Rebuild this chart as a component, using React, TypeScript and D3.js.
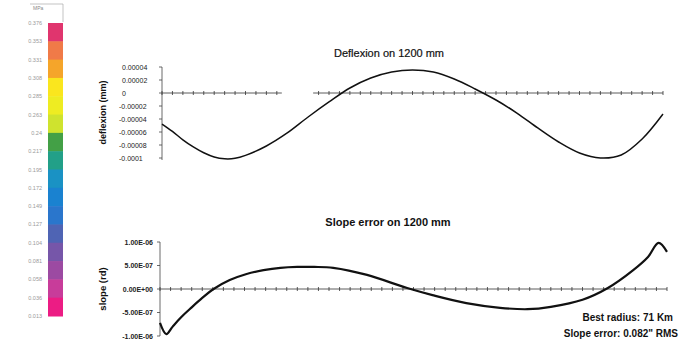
import React from "react";
import * as d3 from "d3";

// colour scale (MPa)
const scaleLabels = ["0.376", "0.353", "0.331", "0.308", "0.285", "0.263", "0.24", "0.217", "0.195", "0.172", "0.149", "0.127", "0.104", "0.081", "0.058", "0.036", "0.013"];
const scaleColors = ["#e0356e", "#f07a48", "#f5a52a", "#fae61e", "#eeec22", "#cfe32e", "#43a046", "#22a088", "#1a92c4", "#1a82d0", "#2a76cc", "#4f64b4", "#7656a9", "#9c4aa2", "#c83c9a", "#ec1c84"];

// deflexion (mm) along 1200 mm
const defX = [0, 25, 50, 75, 100, 125, 150, 175, 200, 250, 300, 350, 400, 450, 500, 550, 600, 650, 700, 750, 800, 850, 900, 950, 1000, 1050, 1100, 1150, 1200];
const defY = [-4.77e-5, -5.9e-5, -7.2e-5, -8.3e-5, -9.2e-5, -9.85e-5, -1.012e-4, -1.005e-4, -9.6e-5, -8.15e-5, -6.15e-5, -3.69e-5, -1.38e-5, 7.7e-6, 2.31e-5, 3.23e-5, 3.54e-5, 3.23e-5, 2.15e-5, 6.2e-6, -1.08e-5, -3.08e-5, -5.38e-5, -7.54e-5, -9.23e-5, -1.0e-4, -9.54e-5, -7.08e-5, -3.23e-5];
const defTicks = [0.00004, 0.00002, 0, -0.00002, -0.00004, -0.00006, -0.00008, -0.0001];
const defTickLabels = ["0.00004", "0.00002", "0", "-0.00002", "-0.00004", "-0.00006", "-0.00008", "-0.0001"];

// slope error (rd) along 1200 mm
const slopeX = [0, 15, 30, 50, 75, 100, 125, 165, 205, 245, 285, 325, 365, 410, 490, 585, 645, 725, 805, 870, 925, 1000, 1060, 1120, 1155, 1180, 1200];
const slopeY = [-7.2e-7, -9.6e-7, -8.0e-7, -6.0e-7, -3.9e-7, -1.9e-7, -0.1e-7, 1.9e-7, 3.2e-7, 4.0e-7, 4.5e-7, 4.7e-7, 4.7e-7, 4.5e-7, 3.0e-7, 0.2e-7, -1.3e-7, -3.0e-7, -4.0e-7, -4.3e-7, -3.8e-7, -2.3e-7, 0.2e-7, 4.0e-7, 6.8e-7, 9.8e-7, 7.9e-7];
const slopeTicks = [1e-6, 5e-7, 0, -5e-7, -1e-6];
const slopeTickLabels = ["1.00E-06", "5.00E-07", "0.00E+00", "-5.00E-07", "-1.00E-06"];

const xTicks = d3.range(0, 1201, 25);
const zeroGap = [287, 362]; // missing piece of the top zero line (mm)

const font = "'Liberation Sans', Arial, sans-serif";

const App = () => {
  // colour bar
  const cy = d3.scaleLinear().domain([0, scaleLabels.length - 1]).range([23, 316]);

  // top chart
  const dx = d3.scaleLinear().domain([0, 1200]).range([162, 663]);
  const dy = d3.scaleLinear().domain([-0.0001, 0.00004]).range([158, 67]);
  const defLine = d3
    .line<number>()
    .x((d, i) => dx(defX[i]))
    .y((d) => dy(d))
    .curve(d3.curveCatmullRom);

  // bottom chart
  const sx = d3.scaleLinear().domain([0, 1200]).range([160, 667]);
  const sy = d3.scaleLinear().domain([-1e-6, 1e-6]).range([336, 242]);
  const slopeLine = d3
    .line<number>()
    .x((d, i) => sx(slopeX[i]))
    .y((d) => sy(d))
    .curve(d3.curveCatmullRom);

  return (
    <svg width={691} height={351} style={{ position: "absolute", left: 0, top: 0, background: "#fff" }} fontFamily={font}>
      {/* colour bar */}
      <path d={`M30,4 H63 V${cy(0) - 1}`} fill="none" stroke="#aaa" strokeWidth={0.7} />
      <text x={33} y={10} fontSize={5} fill="#888">MPa</text>
      {scaleColors.map((c, i) => (
        <rect key={i} x={48} y={cy(i)} width={15} height={cy(i + 1) - cy(i) + 0.5} fill={c} />
      ))}
      {scaleLabels.map((t, i) => (
        <text key={t} x={42} y={cy(i) + 2} fontSize={5.5} fill="#999" textAnchor="end">{t}</text>
      ))}

      {/* deflexion chart */}
      <text x={389} y={57} fontSize={11} textAnchor="middle" fill="#111" stroke="#111" strokeWidth={0.2}>Deflexion on 1200 mm</text>
      <text transform={`translate(106,${dy(-0.00003)}) rotate(-90)`} fontSize={9} fontWeight="bold" textAnchor="middle" fill="#111">deflexion (mm)</text>
      <line x1={dx(0)} x2={dx(0)} y1={dy(0.00004)} y2={dy(-0.0001) + 2} stroke="#444" strokeWidth={0.8} />
      {defTicks.map((v, i) => (
        <g key={i}>
          <line x1={dx(0) - 3} x2={dx(0)} y1={dy(v)} y2={dy(v)} stroke="#444" strokeWidth={0.8} />
          <text x={v < 0 ? 119 : 122} y={dy(v) + 2.5} fontSize={7} fill="#222">{defTickLabels[i]}</text>
        </g>
      ))}
      <line x1={dx(0)} x2={dx(zeroGap[0])} y1={dy(0)} y2={dy(0)} stroke="#333" strokeWidth={0.8} />
      <line x1={dx(zeroGap[1])} x2={dx(1200)} y1={dy(0)} y2={dy(0)} stroke="#333" strokeWidth={0.8} />
      {xTicks
        .filter((t) => t < zeroGap[0] || t > zeroGap[1])
        .map((t) => (
          <line key={t} x1={dx(t)} x2={dx(t)} y1={dy(0) - 2} y2={dy(0) + 2} stroke="#333" strokeWidth={0.8} />
        ))}
      <path d={defLine(defY) || ""} fill="none" stroke="#111" strokeWidth={1.5} />

      {/* slope chart */}
      <text x={388} y={226} fontSize={11} fontWeight="bold" textAnchor="middle" fill="#111">Slope error on 1200 mm</text>
      <text transform={`translate(106,${sy(0)}) rotate(-90)`} fontSize={9.5} fontWeight="bold" textAnchor="middle" fill="#111">slope (rd)</text>
      <line x1={sx(0)} x2={sx(0)} y1={sy(1e-6)} y2={sy(-1e-6)} stroke="#444" strokeWidth={0.8} />
      {slopeTicks.map((v, i) => (
        <g key={i}>
          <line x1={sx(0) - 3} x2={sx(0)} y1={sy(v)} y2={sy(v)} stroke="#444" strokeWidth={0.8} />
          <text x={153} y={sy(v) + 2.5} fontSize={7} fontWeight="bold" textAnchor="end" fill="#222">{slopeTickLabels[i]}</text>
        </g>
      ))}
      <line x1={sx(0)} x2={sx(1200)} y1={sy(0)} y2={sy(0)} stroke="#333" strokeWidth={0.8} />
      {xTicks.map((t) => (
        <line key={t} x1={sx(t)} x2={sx(t)} y1={sy(0) - 2} y2={sy(0) + 2} stroke="#333" strokeWidth={0.8} />
      ))}
      <path d={slopeLine(slopeY) || ""} fill="none" stroke="#111" strokeWidth={2.2} />

      <text x={673} y={321} fontSize={10} fontWeight="bold" textAnchor="end" fill="#111">Best radius: 71 Km</text>
      <text x={678} y={337} fontSize={10} fontWeight="bold" textAnchor="end" fill="#111">Slope error: 0.082" RMS</text>
    </svg>
  );
};

export default App;
